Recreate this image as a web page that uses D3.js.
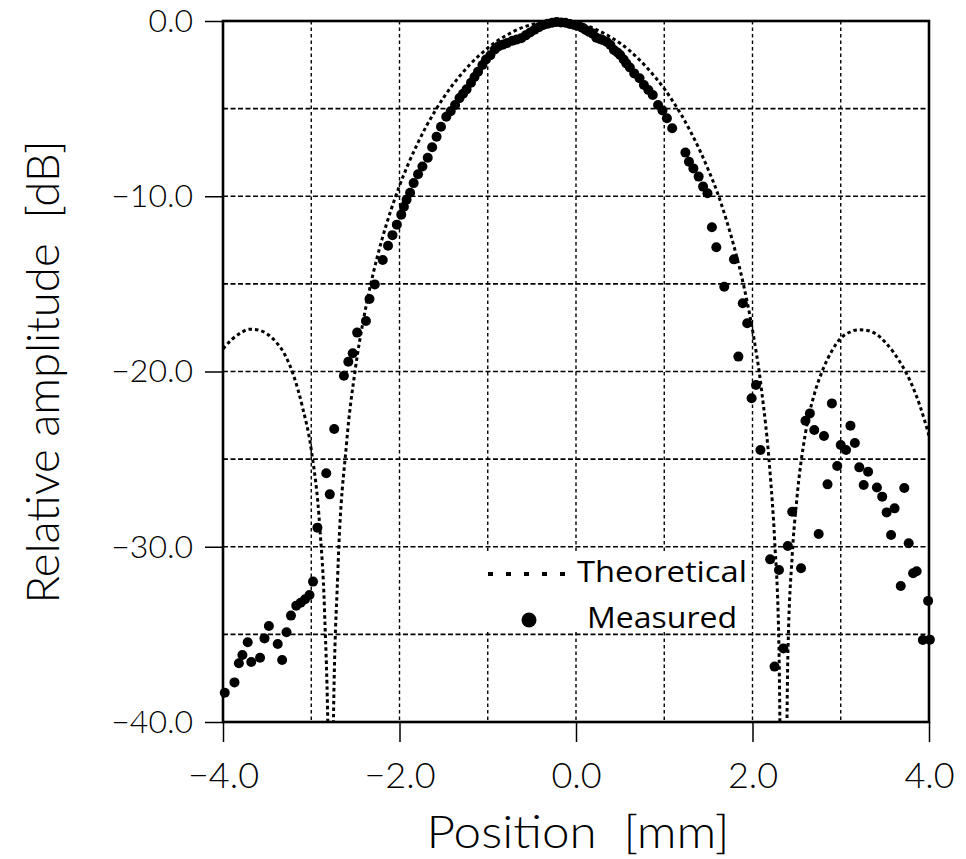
<!DOCTYPE html>
<html>
<head>
<meta charset="utf-8">
<script src="https://cdn.jsdelivr.net/npm/d3@7"></script>
<style>
  html, body { margin: 0; padding: 0; background: #fff; }
  svg { display: block; }
  .tick-label { font-family: Lato, "DejaVu Sans", sans-serif; font-weight: 300; fill: #000; white-space: pre; }
  .legend-text { font-family: "Open Sans", "Liberation Sans", sans-serif; fill: #000; }
</style>
</head>
<body>
<svg id="chart" width="966" height="859"></svg>
<script>
// ---------------- data ----------------
const xTickValues = [-4, -2, 0, 2, 4];
const xTickLabels = ["\u22124.0", "\u22122.0", "0.0", "2.0", "4.0"];
const yTickValues = [0, -10, -20, -30, -40];
const yTickLabels = ["0.0", "\u221210.0", "\u221220.0", "\u221230.0", "\u221240.0"];
const xGrid = [-3, -2, -1, 0, 1, 2, 3];
const yGrid = [-5, -10, -15, -20, -25, -30, -35];

const theoX = [-4.0,-3.9,-3.8,-3.7,-3.6,-3.5,-3.4,-3.3,-3.2,-3.1,-3.0,-2.9,-2.85,-2.8,-2.78,-2.75,-2.7,-2.6,-2.5,-2.4,-2.3,-2.2,-2.1,-2.0,-1.9,-1.8,-1.7,-1.6,-1.5,-1.4,-1.3,-1.2,-1.1,-1.0,-0.9,-0.8,-0.7,-0.6,-0.5,-0.4,-0.3,-0.2,-0.1,0.0,0.1,0.2,0.3,0.4,0.5,0.6,0.7,0.8,0.9,1.0,1.1,1.2,1.3,1.4,1.5,1.6,1.7,1.8,1.9,2.0,2.1,2.2,2.25,2.3,2.35,2.4,2.45,2.5,2.6,2.7,2.8,2.9,3.0,3.1,3.2,3.3,3.4,3.5,3.6,3.7,3.8,3.9,4.0];
const theoY = [-18.71,-18.17,-17.80,-17.59,-17.63,-17.86,-18.31,-19.03,-20.23,-22.02,-24.46,-29.1,-33.6,-44.4,-60,-40.4,-31.6,-24.1,-19.84,-16.82,-14.45,-12.49,-10.84,-9.40,-8.15,-7.04,-6.04,-5.16,-4.37,-3.66,-3.04,-2.47,-1.98,-1.54,-1.16,-0.85,-0.58,-0.36,-0.20,-0.08,-0.02,0,-0.03,-0.11,-0.24,-0.42,-0.66,-0.94,-1.27,-1.66,-2.12,-2.64,-3.22,-3.86,-4.60,-5.41,-6.33,-7.35,-8.50,-9.76,-11.29,-13.04,-15.09,-17.63,-20.95,-25.83,-29.55,-35.8,-60,-36.4,-30.5,-27.4,-23.52,-21.3,-19.86,-18.82,-18.10,-17.76,-17.62,-17.66,-17.86,-18.31,-18.92,-19.70,-20.69,-22.0,-23.66];

const measX = [-3.98,-3.87,-3.82,-3.78,-3.72,-3.68,-3.58,-3.53,-3.48,-3.38,-3.33,-3.28,-3.23,-3.17,-3.12,-3.07,-3.02,-2.98,-2.93,-2.83,-2.79,-2.74,-2.63,-2.58,-2.53,-2.48,-2.38,-2.34,-2.28,-2.19,-2.13,-2.08,-2.03,-1.98,-1.95,-1.92,-1.88,-1.84,-1.79,-1.74,-1.68,-1.63,-1.58,-1.53,-1.47,-1.42,-1.37,-1.32,-1.28,-1.24,-1.19,-1.15,-1.11,-1.06,-1.02,-0.97,-0.92,-0.88,-0.83,-0.78,-0.72,-0.67,-0.62,-0.57,-0.52,-0.47,-0.42,-0.37,-0.32,-0.27,-0.22,-0.17,-0.12,-0.07,-0.02,0.03,0.07,0.11,0.15,0.19,0.23,0.27,0.30,0.35,0.39,0.43,0.47,0.50,0.54,0.57,0.61,0.66,0.72,0.77,0.82,0.87,0.93,0.98,1.03,1.09,1.24,1.28,1.33,1.39,1.44,1.49,1.54,1.59,1.68,1.79,1.84,1.89,1.94,1.99,2.04,2.09,2.20,2.25,2.30,2.35,2.40,2.45,2.55,2.60,2.65,2.70,2.75,2.81,2.85,2.90,2.96,3.00,3.06,3.11,3.16,3.21,3.26,3.31,3.41,3.47,3.52,3.57,3.61,3.68,3.72,3.77,3.82,3.86,3.93,3.99,4.01];
const measY = [-38.33,-37.74,-36.65,-36.18,-35.45,-36.58,-36.33,-35.23,-34.52,-35.55,-36.46,-34.88,-33.93,-33.36,-33.20,-33.00,-32.75,-31.99,-28.91,-25.81,-27.01,-23.28,-20.24,-19.44,-18.96,-17.78,-17.12,-15.86,-15.03,-13.64,-12.82,-12.22,-11.62,-11.05,-10.60,-10.20,-9.80,-9.25,-8.74,-8.30,-7.80,-7.20,-6.60,-6.03,-5.46,-5.15,-4.79,-4.40,-4.15,-3.90,-3.52,-3.20,-2.89,-2.51,-2.20,-1.95,-1.62,-1.45,-1.35,-1.25,-1.12,-1.05,-0.98,-0.82,-0.66,-0.50,-0.35,-0.23,-0.15,-0.10,-0.06,-0.08,-0.10,-0.17,-0.23,-0.28,-0.38,-0.51,-0.62,-0.72,-0.95,-1.02,-1.08,-1.20,-1.37,-1.65,-1.80,-1.94,-2.20,-2.42,-2.65,-2.99,-3.27,-3.65,-3.94,-4.22,-4.79,-5.10,-5.55,-6.12,-7.51,-8.03,-8.41,-8.88,-9.45,-9.83,-11.77,-12.91,-15.16,-13.60,-19.15,-16.11,-17.25,-21.53,-20.77,-24.48,-30.72,-36.84,-31.33,-35.80,-29.96,-28.00,-31.23,-22.81,-22.39,-23.34,-29.27,-23.68,-26.44,-21.82,-25.39,-24.19,-24.48,-23.09,-24.08,-25.47,-26.48,-25.72,-26.62,-27.14,-28.04,-29.33,-27.81,-32.24,-26.65,-29.80,-31.51,-31.40,-35.32,-33.09,-35.30];

const legendLabels = ["Theoretical", "Measured"];

// ---------------- layout ----------------
const L = 223, R = 929, T = 21, B = 722;
const svg = d3.select("#chart");
const x = d3.scaleLinear().domain([-4, 4]).range([L, R]);
const y = d3.scaleLinear().domain([-40, 0]).range([B, T]);

svg.append("rect").attr("width", 966).attr("height", 859).attr("fill", "#fff");

svg.append("defs").append("clipPath").attr("id", "plotclip")
  .append("rect").attr("x", L).attr("y", T).attr("width", R - L).attr("height", B - T);

// grid
const grid = svg.append("g");
grid.selectAll("line.v").data(xGrid).join("line")
  .attr("x1", d => x(d)).attr("x2", d => x(d)).attr("y1", T).attr("y2", B)
  .attr("stroke", "#000").attr("stroke-width", 1.4).attr("stroke-dasharray", "3.5,3");
grid.selectAll("line.h").data(yGrid).join("line")
  .attr("x1", L).attr("x2", R).attr("y1", d => y(d)).attr("y2", d => y(d))
  .attr("stroke", "#000").attr("stroke-width", 1.7).attr("stroke-dasharray", "5,2.5");

// theoretical
const theo = theoX.map((v, i) => [v, theoY[i]]);
svg.append("path")
  .datum(theo)
  .attr("clip-path", "url(#plotclip)")
  .attr("fill", "none").attr("stroke", "#000").attr("stroke-width", 3)
  .attr("stroke-dasharray", "3.5,3")
  .attr("d", d3.line().x(d => x(d[0])).y(d => y(d[1])).curve(d3.curveMonotoneX));

// legend box (covers grid)
svg.append("rect").attr("x", 481).attr("y", 551).attr("width", 267).attr("height", 81).attr("fill", "#fff");

// measured
svg.append("g").selectAll("circle").data(measX.map((v, i) => [v, measY[i]])).join("circle")
  .attr("cx", d => x(d[0])).attr("cy", d => y(d[1])).attr("r", 5).attr("fill", "#000");

// frame
svg.append("rect").attr("x", L).attr("y", T).attr("width", R - L).attr("height", B - T)
  .attr("fill", "none").attr("stroke", "#000").attr("stroke-width", 2.6);

// axes
const xAxis = d3.axisBottom(x).tickValues(xTickValues).tickSize(20)
  .tickFormat((d, i) => xTickLabels[i]);
const gx = svg.append("g").attr("transform", `translate(0,${B})`).call(xAxis);
gx.select(".domain").remove();
gx.selectAll(".tick line").attr("stroke", "#000").attr("stroke-width", 1.5);
gx.selectAll(".tick text").attr("class", "tick-label").attr("font-size", 36)
  .attr("y", 0).attr("dy", null).attr("transform", "translate(0,66)");

const yAxis = d3.axisLeft(y).tickValues(yTickValues).tickSize(18).tickPadding(12)
  .tickFormat((d, i) => yTickLabels[i]);
const gy = svg.append("g").attr("transform", `translate(${L},0)`).call(yAxis);
gy.select(".domain").remove();
gy.selectAll(".tick line").attr("stroke", "#000").attr("stroke-width", 1.5);
gy.selectAll(".tick text").attr("class", "tick-label").attr("font-size", 32).attr("x", -30);

// axis titles
svg.append("text").attr("class", "tick-label").attr("x", 578).attr("y", 848)
  .attr("text-anchor", "middle").attr("font-size", 46)
  .attr("textLength", 303).attr("lengthAdjust", "spacingAndGlyphs")
  .text("Position  [mm]");
svg.append("text").attr("class", "tick-label")
  .attr("transform", "translate(59,372) rotate(-90)")
  .attr("text-anchor", "middle").attr("font-size", 46)
  .attr("textLength", 463).attr("lengthAdjust", "spacingAndGlyphs")
  .text("Relative amplitude  [dB]");

// legend
svg.append("line").attr("x1", 488).attr("x2", 578).attr("y1", 574).attr("y2", 574)
  .attr("stroke", "#000").attr("stroke-width", 4).attr("stroke-dasharray", "5,13");
svg.append("text").attr("class", "legend-text").attr("x", 577).attr("y", 582)
  .attr("font-size", 30).attr("textLength", 170).attr("lengthAdjust", "spacingAndGlyphs")
  .text(legendLabels[0]);
svg.append("circle").attr("cx", 529).attr("cy", 620).attr("r", 7.5).attr("fill", "#000");
svg.append("text").attr("class", "legend-text").attr("x", 587).attr("y", 628)
  .attr("font-size", 30).attr("textLength", 150).attr("lengthAdjust", "spacingAndGlyphs")
  .text(legendLabels[1]);
</script>
</body>
</html>
